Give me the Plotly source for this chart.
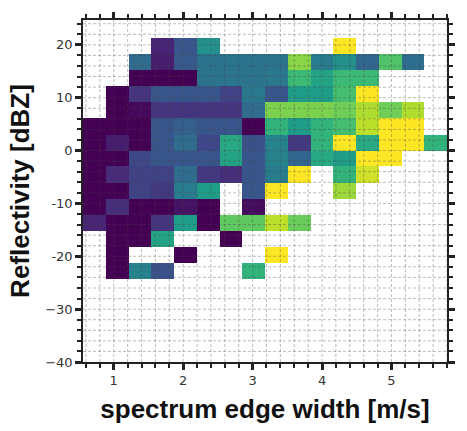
import numpy as np
import plotly.graph_objects as go

# ---- data ----
X_EDGES = list(np.linspace(0.557, 5.80, 17))
Y_EDGES = [-24.3, -21.3, -18.2, -15.2, -12.2, -9.1, -6.1, -3.0, 0.0, 3.0, 6.1, 9.1, 12.2, 15.2, 18.3, 21.3]
N = None
# rows listed top (18..21 dBZ) to bottom (-24..-21 dBZ); 16 columns left to right
Z_TOP_DOWN = [
    [N, N, N, .10, .27, .50, N, N, N, N, N, 1.0, N, N, N, N],
    [N, N, .35, .08, .28, .38, .38, .38, .38, .82, .42, .50, .33, .72, .36, N],
    [N, N, .0, .0, .0, .38, .38, .38, .40, .68, .58, .68, .68, N, N, N],
    [N, .0, .15, .27, .27, .27, .20, .40, .27, .55, .55, .70, 1.0, N, N, N],
    [N, .0, .02, .15, .15, .15, .15, .35, .80, .80, .80, .78, .88, .78, .88, N],
    [.0, .0, .0, .27, .30, .27, .27, .0, .65, .55, .65, .70, .90, 1.0, 1.0, N],
    [.0, .08, .0, .27, .35, .22, .60, .25, .45, .17, .65, 1.0, .60, 1.0, 1.0, .65],
    [.0, .0, .22, .27, .27, .27, .58, .27, .45, .33, .60, .55, 1.0, 1.0, N, N],
    [.0, .12, .20, .20, .35, .17, .13, .27, .42, 1.0, N, .65, .93, N, N, N],
    [.0, .0, .20, .17, .42, .55, N, .27, 1.0, N, N, .85, N, N, N, N],
    [.0, .13, .0, .0, .05, .0, N, .03, N, N, N, N, N, N, N, N],
    [.10, .0, .0, .15, .55, .0, .75, .75, .90, .77, N, N, N, N, N, N],
    [N, .0, .0, .58, N, N, .0, N, N, N, N, N, N, N, N, N],
    [N, .0, N, N, .0, N, N, N, 1.0, N, N, N, N, N, N, N],
    [N, .0, .45, .25, N, N, N, .65, N, N, N, N, N, N, N, N],
]
X_TICKS = [1, 2, 3, 4, 5]
Y_TICKS = [-40, -30, -20, -10, 0, 10, 20]
Y_TICK_TEXT = ["\u221240", "\u221230", "-20", "-10", "0", "10", "20"]
X_RANGE = [0.557, 5.80]
Y_RANGE = [-40, 24.7]

z = Z_TOP_DOWN[::-1]

fig = go.Figure()
fig.add_trace(go.Heatmap(
    x=X_EDGES, y=Y_EDGES, z=z,
    colorscale="Viridis", zmin=0, zmax=1,
    showscale=False, hoverongaps=False,
))

# grid drawn above the cells (dashed)
shapes = []
gcol = "rgba(70,70,70,0.45)"
for gx in np.arange(0.6, 5.81, 0.2):
    shapes.append(dict(type="line", xref="x", yref="paper", x0=gx, x1=gx, y0=0, y1=1,
                       line=dict(color=gcol, width=0.8, dash="3px,2px"), layer="above"))
for gy in np.arange(-38, 24.1, 2):
    shapes.append(dict(type="line", xref="paper", yref="y", x0=0, x1=1, y0=gy, y1=gy,
                       line=dict(color=gcol, width=0.8, dash="3px,2px"), layer="above"))
fig.update_layout(shapes=shapes)

tickfont = dict(family="DejaVu Sans", size=13, color="#333333")
titlefont = dict(family="Liberation Sans", size=26, color="#111111", weight="bold")
axis_common = dict(
    showgrid=False, zeroline=False, showline=True, linecolor="#222222", linewidth=1.5,
    mirror="allticks", ticks="outside", tickcolor="#222222", tickwidth=3, ticklen=6,
    tickfont=tickfont, layer="above traces",
)

fig.update_xaxes(
    range=X_RANGE, tickvals=X_TICKS, ticktext=[str(v) for v in X_TICKS],
    minor=dict(dtick=0.2, tick0=0, ticks="outside", ticklen=4, tickwidth=1.5, tickcolor="#222222", showgrid=False),
    title=dict(text="spectrum edge width [m/s]", font=titlefont, standoff=12),
    **axis_common,
)
fig.update_yaxes(
    range=Y_RANGE, tickvals=Y_TICKS, ticktext=Y_TICK_TEXT,
    minor=dict(dtick=2, tick0=0, ticks="outside", ticklen=4, tickwidth=1.5, tickcolor="#222222", showgrid=False),
    title=dict(text="Reflectivity [dBZ]", font=titlefont, standoff=8),
    **axis_common,
)

fig.update_layout(
    width=467, height=431,
    margin=dict(l=83, r=15, t=13, b=63),
    plot_bgcolor="white", paper_bgcolor="white",
    showlegend=False,
)

fig.write_html("out.html")
